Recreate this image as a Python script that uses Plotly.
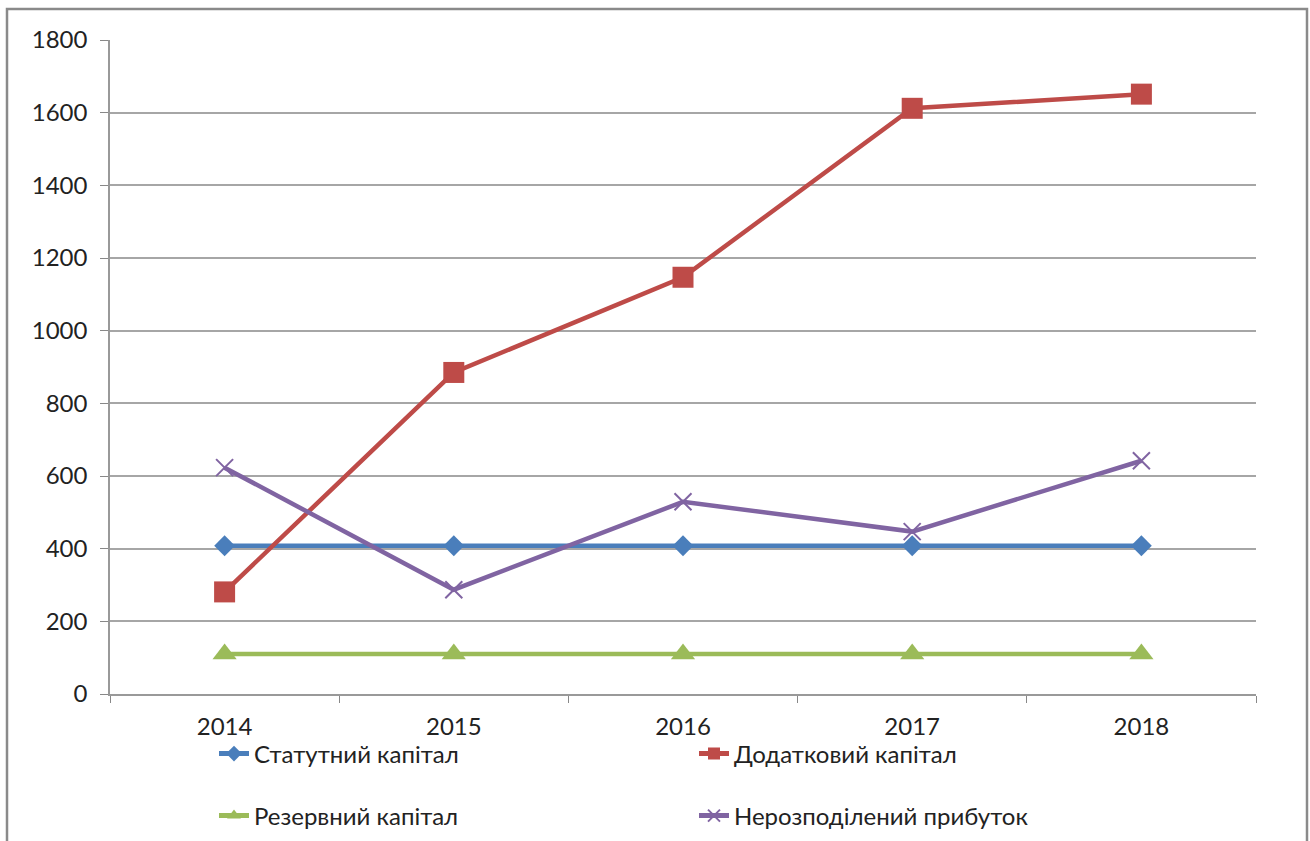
import plotly.graph_objects as go

years = ["2014", "2015", "2016", "2017", "2018"]
statutory = [408, 408, 408, 408, 408]
additional = [281, 885, 1147, 1612, 1651]
reserve = [110, 110, 110, 110, 110]
retained = [623, 287, 529, 447, 642]

names = ["Статутний капітал", "Додатковий капітал", "Резервний капітал", "Нерозподілений прибуток"]
colors = ["#4A7EBB", "#BE4B48", "#9BBB59", "#8064A2"]
symbols = ["diamond", "square", "triangle-up", "x-thin"]
sizes = [16, 21, 21, 17]
series = [statutory, additional, reserve, retained]
legends = ["legend", "legend", "legend2", "legend2"]

fig = go.Figure()
for n, c, s, sz, vals, lg in zip(names, colors, symbols, sizes, series, legends):
    marker = dict(color=c, symbol=s, size=sz)
    if s == "x-thin":
        marker["line"] = dict(color=c, width=2)
    fig.add_trace(go.Scatter(x=years, y=vals, name=n, mode="lines+markers",
                             line=dict(color=c, width=4.5), marker=marker, legend=lg))

W, H = 1310, 841
L, R, T, B = 110, 54, 40, 147
pw, ph = W - L - R, H - T - B

def px(x):
    return (x - L) / pw

def py(y):
    return (H - B - y) / ph

font = dict(family="Lato, Open Sans, sans-serif", size=24, color="#222")
lfont = dict(family="Lato, Open Sans, sans-serif", size=24, color="#222")

fig.update_layout(
    width=W, height=H,
    margin=dict(l=L, r=R, t=T, b=B, pad=0, autoexpand=False),
    paper_bgcolor="white", plot_bgcolor="white",
    font=font,
    showlegend=True,
    legend=dict(orientation="h", xref="container", yref="container",
                x=214 / W, y=1 - 754 / H, yanchor="middle", xanchor="left",
                entrywidth=435, entrywidthmode="pixels", font=lfont,
                bgcolor="rgba(0,0,0,0)", itemsizing="constant"),
    legend2=dict(orientation="h", xref="container", yref="container",
                 x=214 / W, y=1 - 816 / H, yanchor="middle", xanchor="left",
                 entrywidth=435, entrywidthmode="pixels", font=lfont,
                 bgcolor="rgba(0,0,0,0)", itemsizing="constant"),
    xaxis=dict(type="category", range=[-0.5, 4.5], tickson="boundaries", ticks="outside",
               ticklen=7, tickcolor="#888", showline=True, linecolor="#999", linewidth=1.5,
               showgrid=False, tickfont=font, fixedrange=True, automargin=False,
               ticklabelstandoff=10),
    yaxis=dict(range=[0, 1800], dtick=200, ticks="outside", ticklen=8, tickcolor="#888",
               showline=True, linecolor="#999", linewidth=1.5, showgrid=True,
               gridcolor="#A6A6A6", gridwidth=1.5, zeroline=False, tickfont=font,
               ticklabelstandoff=8, automargin=False),
    shapes=[dict(type="rect", xref="paper", yref="paper", x0=px(7), x1=px(1307),
                 y0=py(850), y1=py(9), line=dict(color="#8A8A8A", width=2.5), layer="below")],
)

fig.write_html("out.html")
